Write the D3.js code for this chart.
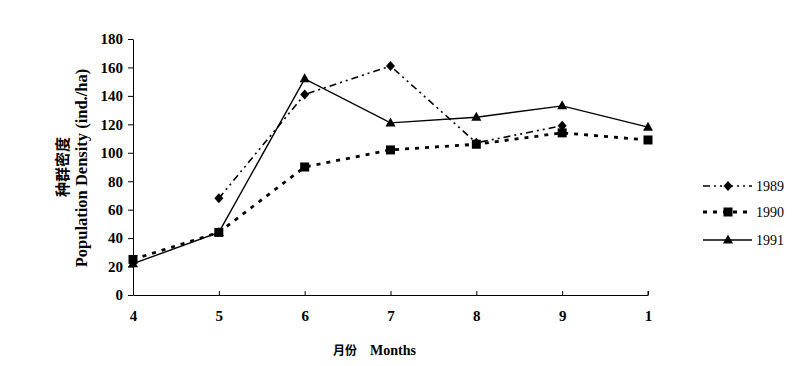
<!DOCTYPE html>
<html>
<head>
<meta charset="utf-8">
<script src="https://cdn.jsdelivr.net/npm/d3@7"></script>
<style>
  body { margin: 0; background: #fff; }
  svg text { font-family: "Liberation Serif", "Noto Sans CJK SC", serif; fill: #000; }
</style>
</head>
<body>
<svg id="canvas"></svg>
<script>
const WIDTH = 811;
const HEIGHT = 366;

const months = ["4", "5", "6", "7", "8", "9", "1"];
const yTicks = [0, 20, 40, 60, 80, 100, 120, 140, 160, 180];

const years = ["1989", "1990", "1991"];
const values1989 = [null, 68, 141, 161, 107, 119, null];
const values1990 = [25, 44, 90, 102, 106, 114, 109];
const values1991 = [22, 44, 152, 121, 125, 133, 118];

const seriesList = [
  { name: years[0], values: values1989, dash: "7,4,2,4,2,4", width: 1.6, marker: "diamond" },
  { name: years[1], values: values1990, dash: "4,6", width: 2.8, marker: "square" },
  { name: years[2], values: values1991, dash: null, width: 1.4, marker: "triangle" },
];

const canvas = d3.select("#canvas").attr("width", WIDTH).attr("height", HEIGHT);

const xScale = d3.scalePoint().domain(months).range([133, 648]);
const yScale = d3.scaleLinear().domain([0, 180]).range([295, 39]);

// axes
const xAxis = d3.axisBottom(xScale).tickSizeInner(-4).tickSizeOuter(0).tickPadding(15);
const gx = canvas.append("g").attr("transform", "translate(0,295)").call(xAxis);
gx.selectAll("text").style("font-size", "15px").style("font-weight", "bold");

const yAxis = d3.axisLeft(yScale).tickValues(yTicks).tickSizeInner(5).tickSizeOuter(0).tickPadding(5);
const gy = canvas.append("g").attr("transform", "translate(133,0)").call(yAxis);
gy.selectAll("text").style("font-size", "15px").style("font-weight", "bold");
canvas.selectAll(".domain, .tick line").attr("stroke", "#000").attr("stroke-width", 1);

// small closing tick at right end of x axis
canvas.append("line").attr("x1", 648).attr("x2", 648).attr("y1", 295).attr("y2", 291).attr("stroke", "#000");

// axis titles
canvas.append("text")
  .attr("transform", "translate(68,167) rotate(-90)")
  .attr("text-anchor", "middle")
  .style("font-family", "Noto Sans CJK SC")
  .style("font-size", "15px").style("font-weight", "bold")
  .text("种群密度");
canvas.append("text")
  .attr("transform", "translate(87,168) rotate(-90)")
  .attr("text-anchor", "middle")
  .style("font-size", "16.5px").style("font-weight", "bold")
  .text("Population Density (ind./ha)");
canvas.append("text")
  .attr("x", 333).attr("y", 355)
  .style("font-size", "14px").style("font-weight", "bold")
  .html('<tspan style="font-family:Noto Sans CJK SC;font-size:12px">月份</tspan><tspan dx="13">Months</tspan>');

const drawMarker = (g, type, x, y) => {
  if (type === "diamond") {
    g.append("path").attr("d", `M${x},${y - 5}L${x + 4.5},${y}L${x},${y + 5}L${x - 4.5},${y}Z`).attr("fill", "#000");
  } else if (type === "square") {
    g.append("rect").attr("x", x - 4.5).attr("y", y - 4.5).attr("width", 9).attr("height", 9).attr("fill", "#000");
  } else {
    g.append("path").attr("d", `M${x},${y - 5.5}L${x + 5},${y + 3.5}L${x - 5},${y + 3.5}Z`).attr("fill", "#000");
  }
};

const line = d3.line()
  .defined((d) => d.v !== null)
  .x((d) => xScale(d.m))
  .y((d) => yScale(d.v));

seriesList.forEach((s) => {
  const pts = months.map((m, i) => ({ m: m, v: s.values[i] }));
  canvas.append("path")
    .datum(pts)
    .attr("d", line)
    .attr("fill", "none")
    .attr("stroke", "#000")
    .attr("stroke-width", s.width)
    .attr("stroke-dasharray", s.dash);
  const g = canvas.append("g");
  pts.filter((d) => d.v !== null).forEach((d) => drawMarker(g, s.marker, xScale(d.m), yScale(d.v)));
});

// legend
const legendY = [186, 212, 240];
seriesList.forEach((s, i) => {
  const g = canvas.append("g");
  g.append("line")
    .attr("x1", 703).attr("x2", 752)
    .attr("y1", legendY[i]).attr("y2", legendY[i])
    .attr("stroke", "#000")
    .attr("stroke-width", s.width)
    .attr("stroke-dasharray", s.dash);
  drawMarker(g, s.marker, 728, legendY[i]);
  g.append("text")
    .attr("x", 756).attr("y", legendY[i] + 5)
    .style("font-size", "14px")
    .text(s.name);
});
</script>
</body>
</html>
